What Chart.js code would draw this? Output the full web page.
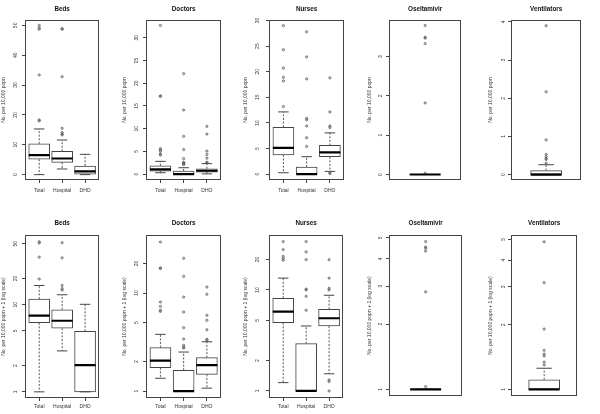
<!DOCTYPE html>
<html>
<head>
<meta charset="utf-8">
<script src="https://cdn.jsdelivr.net/npm/chart.js@4"></script>
<style>
html, body { margin: 0; padding: 0; background: #fff; }
#wrap { position: relative; width: 600px; height: 414px; overflow: hidden; }
#wrap canvas { position: absolute; }
</style>
</head>
<body>
<div id="wrap"></div>
<script>
const groups = ["Total", "Hospital", "DHO"];

// per group: [low whisker, q1, median, q3, high whisker]
const bedsStats = [[0, 5.15, 6.5, 10.3, 15.3], [1.9, 4.1, 5.4, 7.8, 11.6], [0, 0, 1.1, 2.9, 6.8]];
const bedsOut = [[50.0, 49.2, 48.7, 33.4, 18.3, 18.0], [48.9, 48.7, 32.8, 15.5, 14.1, 13.6, 13.3], []];
const doctorsStats = [[0.3, 0.66, 1.03, 1.84, 2.8], [0, 0, 0, 0.67, 1.4], [0.05, 0.45, 0.74, 1.18, 2.3]];
const doctorsOut = [[32.7, 17.2, 17.1, 5.6, 5.3, 5.0, 4.4, 4.2], [22.1, 14.1, 8.3, 5.4, 3.4, 2.6, 2.4, 2.2, 2.1], [10.5, 8.8, 5.05, 4.3, 3.5, 2.6, 2.5]];
const nursesStats = [[0.27, 3.77, 5.14, 9.16, 12.15], [0, 0, 0, 1.37, 3.4], [0.53, 3.39, 4.23, 5.6, 8.05]];
const nursesOut = [[29.0, 24.3, 20.7, 18.9, 18.2, 13.2], [27.8, 22.9, 18.6, 10.9, 10.6, 9.4, 7.1, 5.4], [18.8, 12.15, 9.4, 9.1, 0.3, 0.1]];
const oselStats = [[0, 0, 0, 0, 0]];
const oselOut = [[3.79, 3.49, 3.47, 3.33, 1.82, 0.03]];
const ventStats = [[0, 0, 0, 0.105, 0.26]];
const ventOut = [[3.9, 2.17, 0.91, 0.53, 0.47, 0.42, 0.40, 0.30]];

// same measures, popn + 1 on a log scale
const bedsLogStats = [[1, 6.2, 7.47, 11.6, 16.6], [2.95, 5.37, 6.54, 8.75, 13.0], [1, 1, 2.03, 4.96, 10.1]];
const bedsLogOut = [[52.7, 50.9, 35.1, 19.7], [51.4, 34.5, 16.6, 15.3, 14.7], []];
const doctorsLogStats = [[1.35, 1.73, 2.04, 2.77, 3.79], [1, 1, 1, 1.63, 2.5], [1.07, 1.48, 1.84, 2.19, 3.18]];
const doctorsLogOut = [[33.1, 18.0, 17.8, 8.1, 7.3, 6.66, 6.5], [22.6, 14.8, 9.1, 6.4, 4.43, 3.39, 2.93, 2.8, 2.75], [11.5, 9.7, 5.92, 5.27, 4.22, 3.37, 3.3]];
const nursesLogStats = [[1.21, 4.74, 6.1, 8.28, 13.1], [1, 1, 1, 2.94, 4.4], [1.48, 4.4, 5.25, 6.44, 8.86]];
const nursesLogOut = [[30.1, 25.1, 21.5, 20.5, 19.7], [30.1, 23.8, 19.95, 10.2, 10.0, 8.65, 6.3], [19.95, 13.1, 10.4, 10.0, 1.29, 1.24, 1.0]];
const oselLogStats = [[1, 1, 1, 1, 1]];
const oselLogOut = [[4.81, 4.54, 4.48, 4.35, 2.82, 1.03]];
const ventLogStats = [[1, 1, 1, 1.108, 1.254]];
const ventLogOut = [[4.87, 3.14, 1.91, 1.52, 1.46, 1.43, 1.34, 1.30]];

// tick labels and axis ranges
const bedsTicks = [0, 10, 20, 30, 40, 50];
const doctorsTicks = [0, 5, 10, 15, 20, 25, 30];
const nursesTicks = [0, 5, 10, 15, 20, 25, 30];
const oselTicks = [0, 1, 2, 3];
const ventTicks = [0, 1, 2, 3, 4];
const bedsLogTicks = [1, 2, 5, 10, 20, 50];
const doctorsLogTicks = [1, 2, 5, 10, 20];
const nursesLogTicks = [1, 2, 5, 10, 20];
const oselLogTicks = [1, 2, 3, 4, 5];
const ventLogTicks = [1, 2, 3, 4, 5];

const bedsRange = [-1.8, 51.8];
const doctorsRange = [-1.3, 33.9];
const nursesRange = [-1.15, 30.1];
const oselRange = [-0.14, 3.93];
const ventRange = [-0.14, 4.05];
const bedsLogRange = [0.85, 63];
const doctorsLogRange = [0.849, 39.1];
const nursesLogRange = [0.852, 35];
const oselLogRange = [0.929, 5.16];
const ventLogRange = [0.928, 5.24];

const FONT = "'Liberation Sans', Arial, Helvetica, sans-serif";
const AXIS_W = 28;
const ROW_H = 207;
const ink = "#333";

const rows = [
	{ top: 0, titleH: 20, titleMid: 9.3, xAxisH: 27, xPad: 4.7, yTitle: "No. per 10,000 popn" },
	{ top: 207, titleH: 28, titleMid: 16, xAxisH: 16, xPad: 2.3, yTitle: "No. per 10,000 popn + 1 (log scale)" },
];
const cols = [
	{ left: 25, right: [108, 108], labelDist: 9.3, titleDist: 21 },
	{ left: 146, right: [230, 230], labelDist: 9.5, titleDist: 21.5 },
	{ left: 269, right: [353, 352], labelDist: 11, titleDist: 23 },
	{ left: 389, right: [475, 476], labelDist: 8, titleDist: 19.5 },
	{ left: 511, right: [595, 591], labelDist: 7.3, titleDist: 20 },
];

const panels = [
	{ row: 0, col: 0, title: "Beds", stats: bedsStats, out: bedsOut, ticks: bedsTicks, range: bedsRange },
	{ row: 0, col: 1, title: "Doctors", stats: doctorsStats, out: doctorsOut, ticks: doctorsTicks, range: doctorsRange },
	{ row: 0, col: 2, title: "Nurses", stats: nursesStats, out: nursesOut, ticks: nursesTicks, range: nursesRange },
	{ row: 0, col: 3, title: "Oseltamivir", stats: oselStats, out: oselOut, ticks: oselTicks, range: oselRange },
	{ row: 0, col: 4, title: "Ventilators", stats: ventStats, out: ventOut, ticks: ventTicks, range: ventRange },
	{ row: 1, col: 0, title: "Beds", stats: bedsLogStats, out: bedsLogOut, ticks: bedsLogTicks, range: bedsLogRange, log: true },
	{ row: 1, col: 1, title: "Doctors", stats: doctorsLogStats, out: doctorsLogOut, ticks: doctorsLogTicks, range: doctorsLogRange, log: true },
	{ row: 1, col: 2, title: "Nurses", stats: nursesLogStats, out: nursesLogOut, ticks: nursesLogTicks, range: nursesLogRange, log: true },
	{ row: 1, col: 3, title: "Oseltamivir", stats: oselLogStats, out: oselLogOut, ticks: oselLogTicks, range: oselLogRange, log: true },
	{ row: 1, col: 4, title: "Ventilators", stats: ventLogStats, out: ventLogOut, ticks: ventLogTicks, range: ventLogRange, log: true },
];

const measure = document.createElement("canvas").getContext("2d");
const textWidth = (str, size) => {
	measure.font = size + "px " + FONT;
	return measure.measureText(str).width;
};

// box outline round the plot region
const framePlugin = {
	id: "frame",
	afterDatasetsDraw(chart) {
		const { ctx, chartArea: a } = chart;
		ctx.save();
		ctx.strokeStyle = "#444";
		ctx.lineWidth = 1;
		ctx.strokeRect(Math.round(a.left) + 0.5, Math.round(a.top) + 0.5, Math.round(a.right - a.left) - 1, Math.round(a.bottom - a.top) - 1);
		ctx.restore();
	},
};

const wrap = document.getElementById("wrap");

panels.forEach(p => {
	const row = rows[p.row];
	const col = cols[p.col];
	const plotRight = col.right[p.row];
	const n = p.stats.length;
	const xs = p.stats.map((s, i) => i + 1);
	const boxW = n > 1 ? 21 : 31;
	const capR = n > 1 ? 5.25 : 7.75;

	const canvas = document.createElement("canvas");
	canvas.width = plotRight - col.left + AXIS_W + 4;
	canvas.height = ROW_H;
	canvas.style.left = col.left - AXIS_W + "px";
	canvas.style.top = row.top + "px";
	wrap.appendChild(canvas);

	const widest = Math.max(...p.ticks.map(v => textWidth(String(v), 5)));
	const tickPad = col.labelDist - 3 - widest / 2;
	const titleFont = { family: FONT, size: 6.3, weight: "bold", lineHeight: 1.2 };
	const titleTop = row.titleMid - 6.3 * 1.2 / 2;

	const boxData = p.stats.map((s, i) => ({ x: i + 1, y: [s[1], s[3]] }));
	const medData = p.stats.map((s, i) => ({ x: i + 1, y: s[2] }));
	const capData = p.stats.flatMap((s, i) => [{ x: i + 1, y: s[0] }, { x: i + 1, y: s[4] }]);
	const whiskerData = p.stats.flatMap((s, i) => [
		{ x: i + 1, y: s[3] }, { x: i + 1, y: s[4] }, { x: i + 1, y: null },
		{ x: i + 1, y: s[1] }, { x: i + 1, y: s[0] }, { x: i + 1, y: null },
	]);
	const outData = p.out.flatMap((list, i) => list.map(v => ({ x: i + 1, y: v })));

	const data = {
		datasets: [
			{
				type: "bar",
				data: boxData,
				backgroundColor: "#fff",
				borderColor: "#444",
				borderWidth: 1,
				borderSkipped: false,
				barThickness: boxW,
				order: 3,
			},
			{
				type: "line",
				data: whiskerData,
				borderColor: "#555",
				borderWidth: 1,
				borderDash: [2, 1.6],
				pointRadius: 0,
				order: 4,
			},
			{
				type: "line",
				data: capData,
				showLine: false,
				pointStyle: "line",
				pointRadius: capR,
				pointBorderWidth: 1,
				pointBorderColor: "#444",
				order: 2,
			},
			{
				type: "line",
				data: outData,
				showLine: false,
				pointStyle: "circle",
				pointRadius: 1.15,
				pointBorderWidth: 0.6,
				pointBorderColor: "#444",
				pointBackgroundColor: "rgba(140,140,140,0.45)",
				order: 1,
			},
			{
				type: "line",
				data: medData,
				showLine: false,
				pointStyle: "line",
				pointRadius: boxW / 2,
				pointBorderWidth: 2.2,
				pointBorderColor: "#000",
				order: 0,
			},
		],
	};

	const xMin = n > 1 ? 0.38 : 0.46;
	const xMax = n > 1 ? 3.62 : 1.54;

	const options = {
		responsive: false,
		animation: false,
		devicePixelRatio: 1,
		layout: { padding: { left: 0, right: 4, top: 0, bottom: 0 } },
		plugins: {
			legend: { display: false },
			tooltip: { enabled: false },
			title: {
				display: true,
				text: p.title,
				fullSize: false,
				color: "#111",
				font: titleFont,
				padding: { top: titleTop, bottom: row.titleH - titleTop - 6.3 * 1.2 },
			},
		},
		scales: {
			x: {
				type: "linear",
				min: xMin,
				max: xMax,
				offset: false,
				afterBuildTicks: s => { s.ticks = xs.map(v => ({ value: v })); },
				afterFit: s => { s.height = row.xAxisH; },
				ticks: {
					display: n > 1,
					autoSkip: false,
					maxRotation: 0,
					padding: row.xPad,
					color: ink,
					font: { family: FONT, size: 5, lineHeight: 1.2 },
					callback: v => groups[v - 1],
				},
				grid: { display: n > 1, offset: false, drawOnChartArea: false, tickLength: 3, color: "#444", tickColor: "#444" },
				border: { display: false },
			},
			y: {
				type: p.log ? "logarithmic" : "linear",
				min: p.range[0],
				max: p.range[1],
				bounds: "data",
				beginAtZero: false,
				afterBuildTicks: s => { s.ticks = p.ticks.map(v => ({ value: v })); },
				afterFit: s => { s.width = AXIS_W; },
				ticks: {
					autoSkip: false,
					minRotation: 90,
					maxRotation: 90,
					crossAlign: "center",
					padding: tickPad,
					color: ink,
					font: { family: FONT, size: 5, lineHeight: 1.2 },
					callback: v => String(v),
				},
				grid: { drawOnChartArea: false, tickLength: 3, color: "#444", tickColor: "#444" },
				border: { display: false },
				title: {
					display: true,
					text: row.yTitle,
					color: ink,
					font: { family: FONT, size: 5, lineHeight: 1.2 },
					padding: { top: AXIS_W - col.titleDist - 3, bottom: 0 },
				},
			},
		},
	};

	new Chart(canvas, { type: "bar", data: data, options: options, plugins: [framePlugin] });
});
</script>
</body>
</html>
